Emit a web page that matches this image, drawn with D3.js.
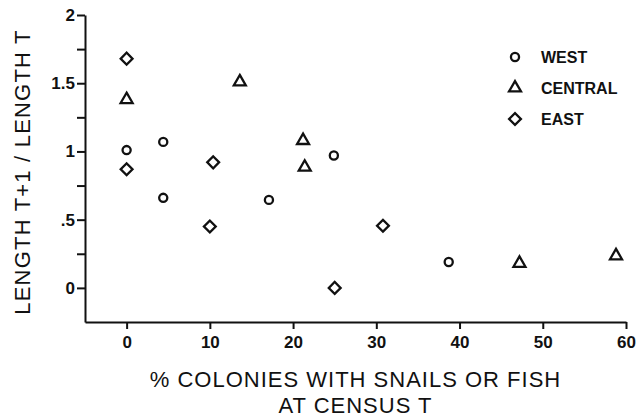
<!DOCTYPE html>
<html>
<head>
<meta charset="utf-8">
<script src="https://cdn.jsdelivr.net/npm/d3@7"></script>
<style>
  body { margin: 0; background: #fff; }
  text { font-family: "Liberation Sans", Arial, sans-serif; fill: #111; }
</style>
</head>
<body>
<script>
// values
var westX = [0, 4.4, 4.4, 17.1, 24.9, 38.7];
var westY = [1.01, 1.07, 0.66, 0.645, 0.97, 0.19];
var centralX = [0, 13.6, 21.2, 21.4, 47.2, 58.8];
var centralY = [1.38, 1.51, 1.08, 0.885, 0.18, 0.235];
var eastX = [0, 0, 10.4, 10, 25, 30.8];
var eastY = [1.68, 0.87, 0.92, 0.45, 0, 0.455];

var seriesNames = ["WEST", "CENTRAL", "EAST"];
var xTicks = [0, 10, 20, 30, 40, 50, 60];
var yTicks = [0, 0.25, 0.5, 0.75, 1, 1.25, 1.5, 1.75, 2];
var yTickLabels = { 0: "0", 0.5: ".5", 1: "1", 1.5: "1.5", 2: "2" };

var width = 636,
  height = 418,
  margin = { top: 15, right: 10, bottom: 96, left: 85 };

var x = d3.scaleLinear().domain([-5, 60]).range([margin.left, width - margin.right]);
var y = d3.scaleLinear().domain([-0.25, 2]).range([height - margin.bottom, margin.top]);

var svg = d3
  .select("body")
  .append("svg")
  .attr("width", width)
  .attr("height", height);

// axes
var xAxis = svg
  .append("g")
  .attr("transform", "translate(0," + y(-0.25) + ")")
  .call(d3.axisBottom(x).tickValues(xTicks).tickSize(7).tickSizeOuter(0).tickPadding(7));
xAxis.selectAll("text")
  .style("font-size", "17px")
  .style("font-weight", "bold")
  .style("font-family", "'Liberation Sans', Arial, sans-serif");

var yAxis = svg
  .append("g")
  .attr("transform", "translate(" + x(-5) + ",0)")
  .call(
    d3.axisLeft(y)
      .tickValues(yTicks)
      .tickSize(8)
      .tickSizeOuter(0)
      .tickPadding(2)
      .tickFormat(function(d) {
        return yTickLabels[d] !== undefined ? yTickLabels[d] : "";
      })
  );
yAxis.selectAll("text")
  .style("font-size", "17px")
  .style("font-weight", "bold")
  .style("font-family", "'Liberation Sans', Arial, sans-serif");

svg.selectAll(".domain, .tick line")
  .attr("stroke", "#111")
  .attr("stroke-width", 2);

// axis titles
svg.append("text")
  .attr("x", (x(-5) + x(60)) / 2)
  .attr("y", 387)
  .attr("text-anchor", "middle")
  .style("font-size", "22px")
  .style("letter-spacing", "1px")
  .text("% COLONIES WITH SNAILS OR FISH");

svg.append("text")
  .attr("x", (x(-5) + x(60)) / 2)
  .attr("y", 413)
  .attr("text-anchor", "middle")
  .style("font-size", "22px")
  .style("letter-spacing", "1px")
  .text("AT CENSUS T");

svg.append("text")
  .attr("transform", "translate(30," + 172 + ") rotate(-90)")
  .attr("text-anchor", "middle")
  .style("font-size", "22px")
  .style("letter-spacing", "1.2px")
  .text("LENGTH T+1 / LENGTH T");

// markers
var symbols = {
  WEST: d3.symbol().type(d3.symbolCircle).size(52),
  CENTRAL: d3.symbol().type(d3.symbolTriangle).size(62),
  EAST: d3.symbol().type(d3.symbolSquare).size(70)
};
var rotation = { WEST: 0, CENTRAL: 0, EAST: 45 };

function drawSeries(name, xs, ys) {
  var pts = xs.map(function(v, i) {
    return { x: v, y: ys[i] };
  });
  svg.append("g")
    .selectAll("path")
    .data(pts)
    .enter()
    .append("path")
    .attr("d", symbols[name]())
    .attr("transform", function(d) {
      return "translate(" + x(d.x) + "," + y(d.y) + ") rotate(" + rotation[name] + ")";
    })
    .attr("fill", "none")
    .attr("stroke", "#111")
    .attr("stroke-width", 2.3);
}

drawSeries("WEST", westX, westY);
drawSeries("CENTRAL", centralX, centralY);
drawSeries("EAST", eastX, eastY);

// legend
var legend = svg.append("g").attr("transform", "translate(515,57)");
seriesNames.forEach(function(name, i) {
  var row = legend.append("g").attr("transform", "translate(0," + i * 31 + ")");
  row.append("path")
    .attr("d", symbols[name]())
    .attr("transform", "rotate(" + rotation[name] + ")")
    .attr("fill", "none")
    .attr("stroke", "#111")
    .attr("stroke-width", 2.3);
  row.append("text")
    .attr("x", 26)
    .attr("y", 6)
    .style("font-size", "16px")
    .style("font-weight", "bold")
    .text(name);
});
</script>
</body>
</html>
